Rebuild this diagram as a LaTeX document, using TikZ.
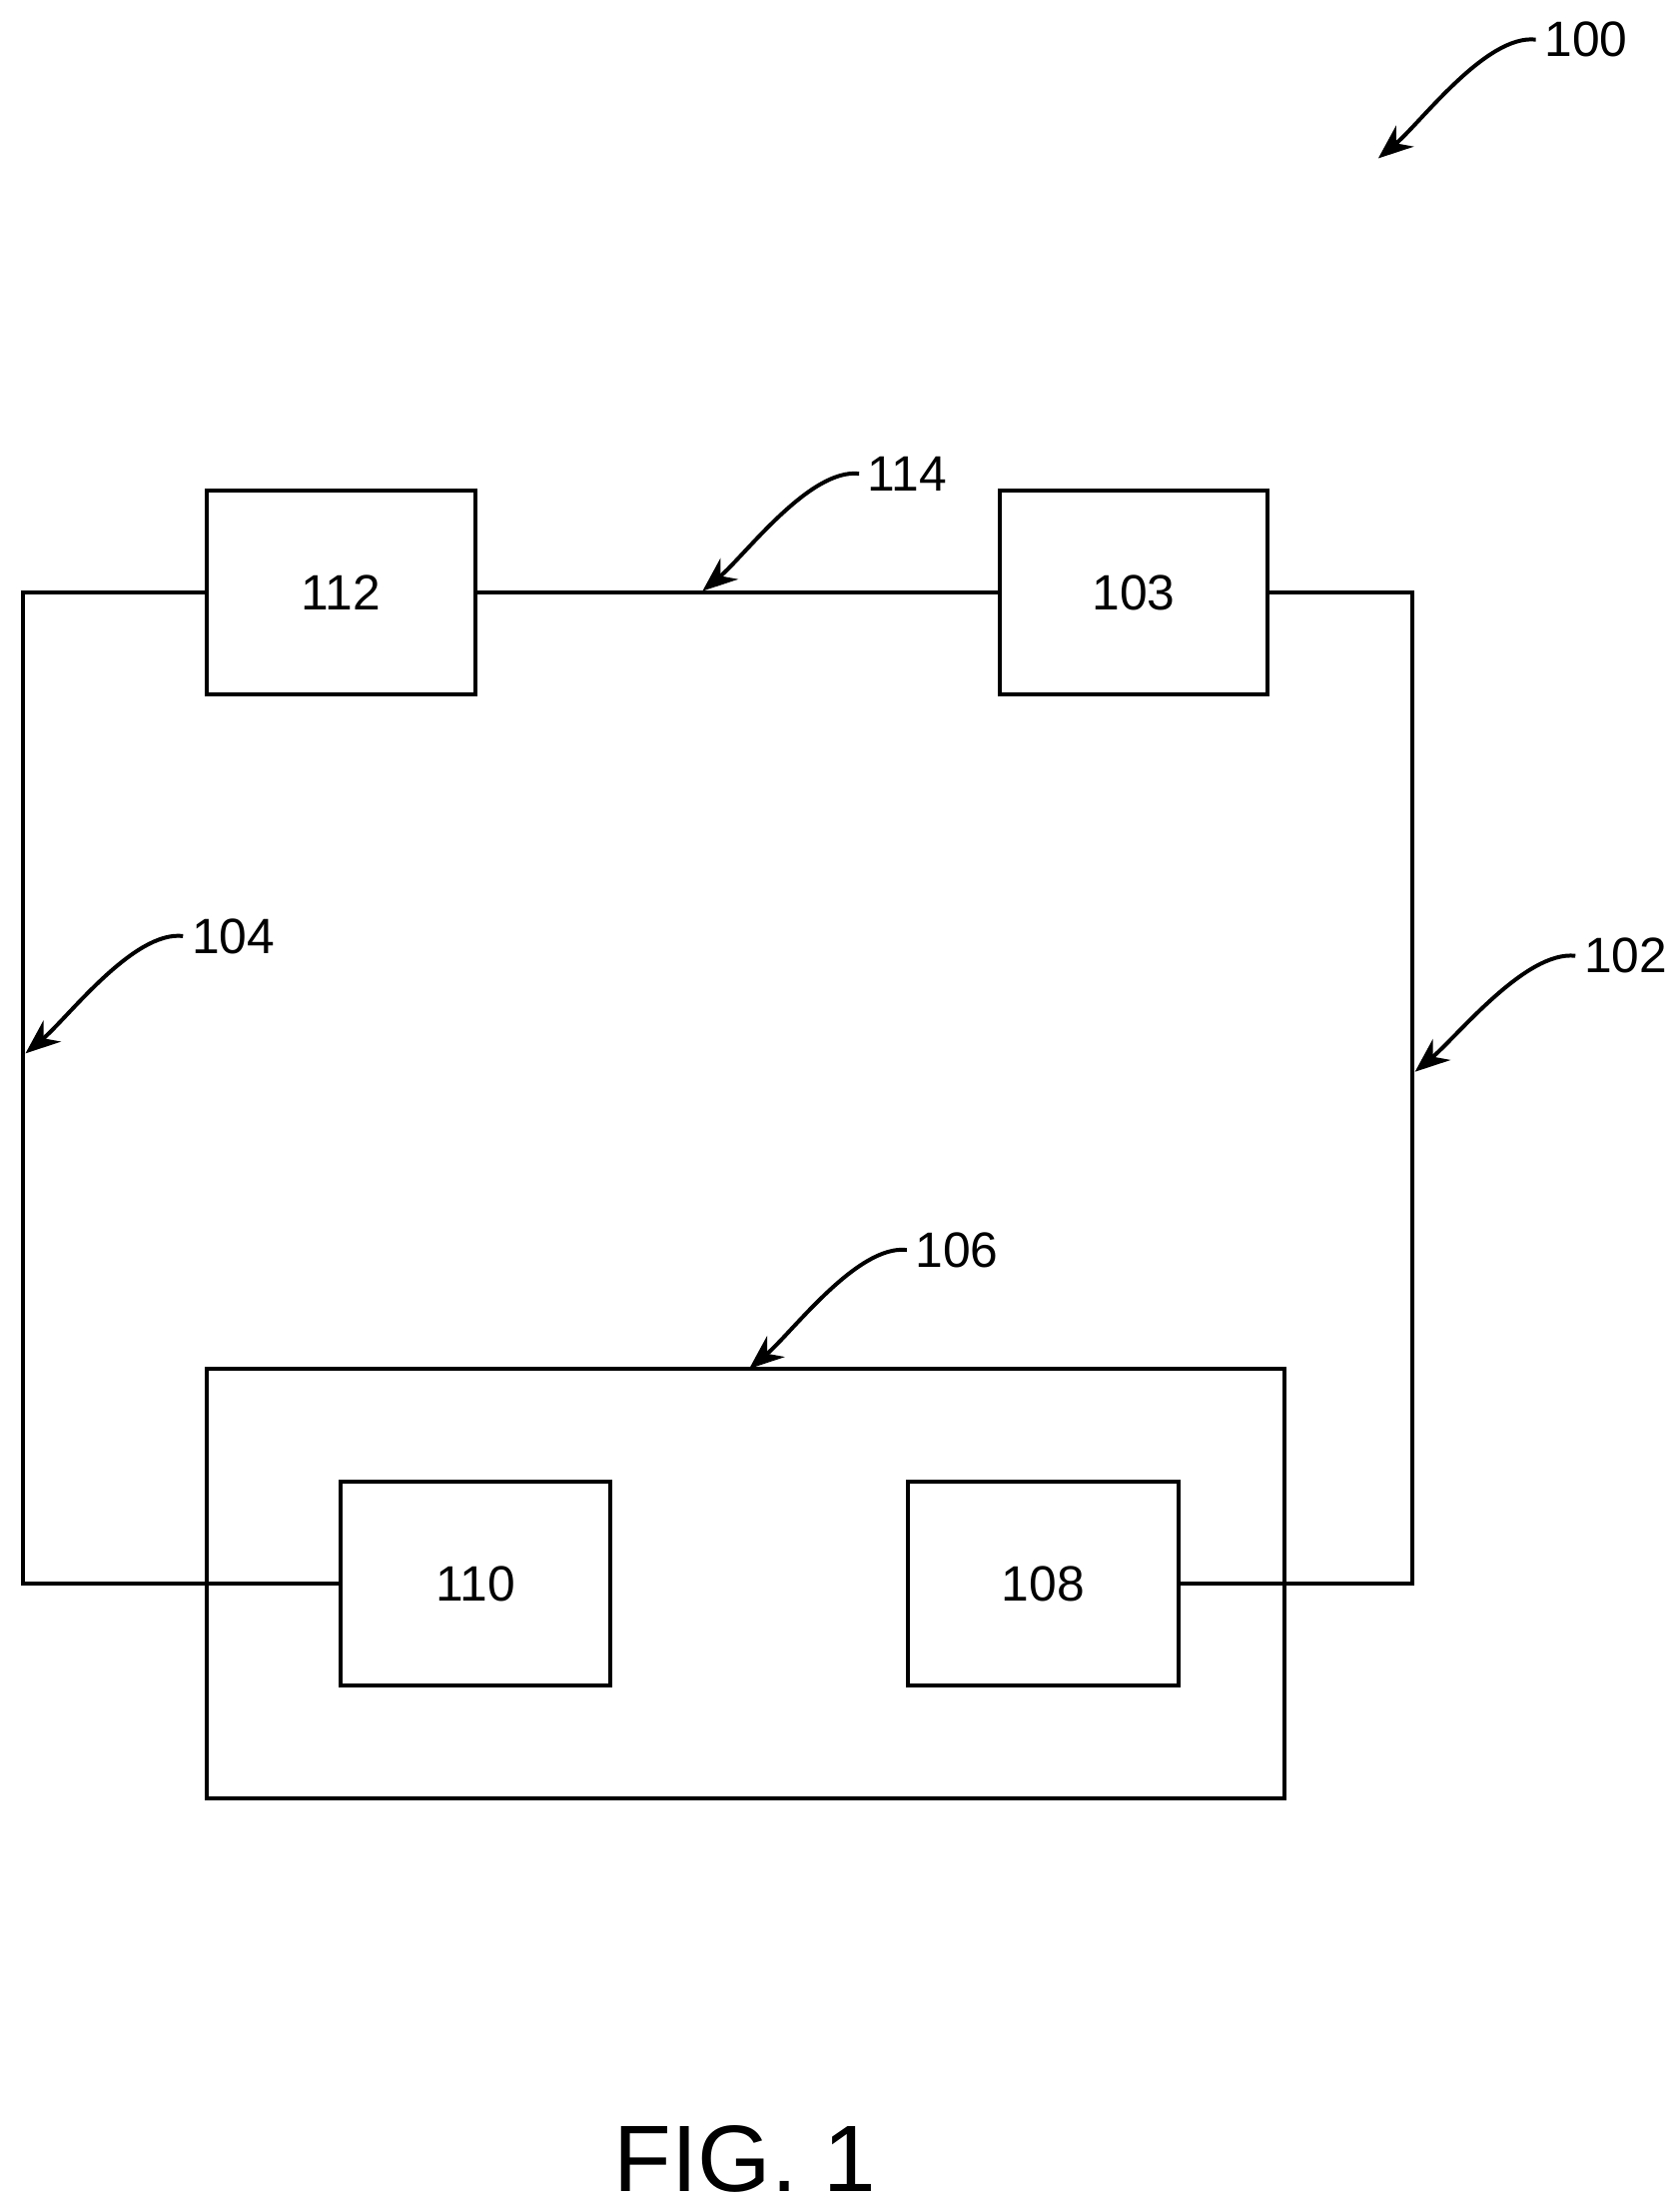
\documentclass[tikz,border=0pt]{standalone}
\usepackage{fontspec}
\setmainfont{Liberation Sans}
\usetikzlibrary{arrows.meta}
\begin{document}
\begin{tikzpicture}[x=0.02cm,y=-0.02cm,
  box/.style={draw,line width=1.6pt,inner sep=0pt},
  wire/.style={line width=1.6pt},
  lbl/.style={font=\fontsize{20}{24}\selectfont},
  ptr/.style={line width=1.6pt,-{Stealth[length=14pt,width=11pt]}}]
\useasboundingbox (0,0) rectangle (1188,1563);
\node[box,minimum width=190*0.02cm,minimum height=144*0.02cm,lbl] (b112) at (241,419) {112};
\node[box,minimum width=190*0.02cm,minimum height=144*0.02cm,lbl] (b103) at (802,419) {103};
\node[box,minimum width=763*0.02cm,minimum height=304*0.02cm] (b106) at (527.5,1120) {};
\node[box,minimum width=191*0.02cm,minimum height=144*0.02cm,lbl] (b110) at (336.5,1120) {110};
\node[box,minimum width=192*0.02cm,minimum height=144*0.02cm,lbl] (b108) at (738,1120) {108};
\coordinate (tl) at (16,419); \coordinate (bl) at (16,1120);
\coordinate (tr) at (999,419); \coordinate (br) at (999,1120);
\draw[wire] (b112.west) -- (tl) -- (bl) -- (b110.west);
\draw[wire] (b103.east) -- (tr) -- (br) -- (b108.east);
\draw[wire] (b112.east) -- (b103.west);
\node[lbl] (l100) at (1122,28) {100};
\node[lbl] (l114) at (642,335) {114};
\node[lbl] (l104) at (165,662) {104};
\node[lbl] (l102) at (1150,676) {102};
\node[lbl] (l106) at (677,884) {106};
\coordinate (t100) at (975,112); \coordinate (t114) at (497,418);
\coordinate (t104) at (18,745); \coordinate (t102) at (1001,758);
\coordinate (t106) at (530,968);
\draw[ptr] (l100.west) .. controls +(-35,-4) and +(30,-25) .. (t100);
\draw[ptr] (l114.west) .. controls +(-35,-4) and +(30,-25) .. (t114);
\draw[ptr] (l104.west) .. controls +(-35,-4) and +(30,-25) .. (t104);
\draw[ptr] (l102.west) .. controls +(-35,-4) and +(30,-25) .. (t102);
\draw[ptr] (l106.west) .. controls +(-35,-4) and +(30,-25) .. (t106);
\node[font=\fontsize{38}{44}\selectfont] (fig) at (527,1527) {FIG. 1};
\end{tikzpicture}
\end{document}
